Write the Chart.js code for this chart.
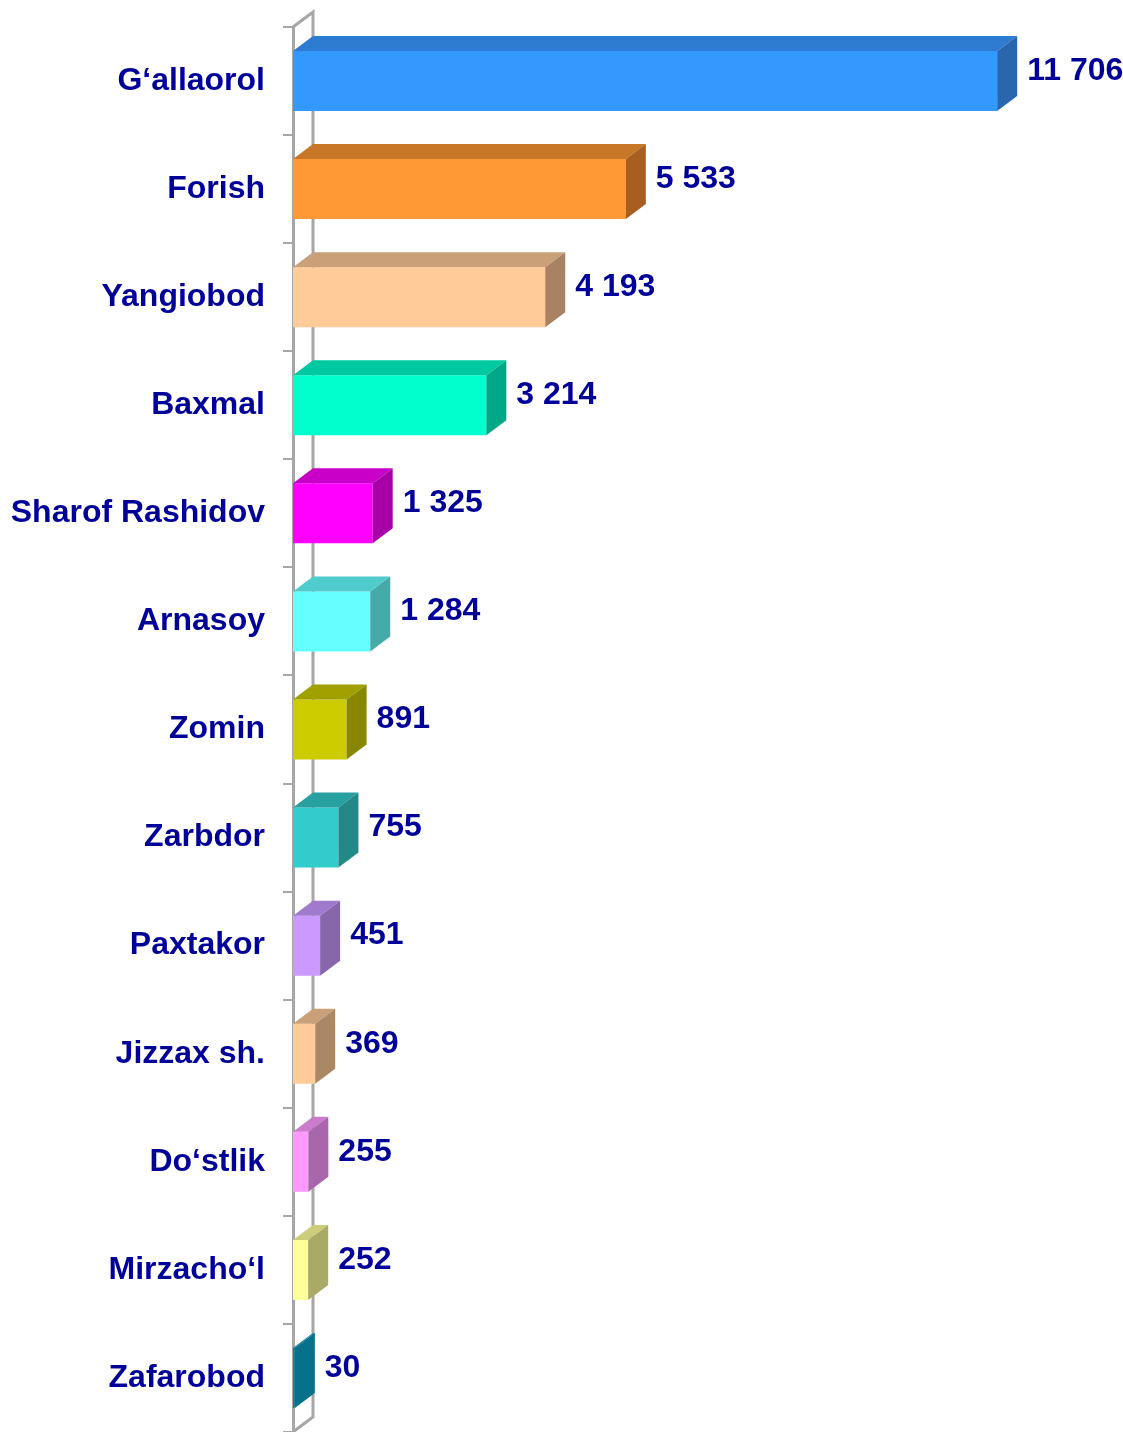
<!DOCTYPE html>
<html>
<head>
<meta charset="utf-8">
<script src="https://cdn.jsdelivr.net/npm/chart.js@4.4.0/dist/chart.umd.min.js"></script>
<style>
  body { margin: 0; background: #fff; }
  canvas { display: block; }
</style>
</head>
<body>
<canvas id="chart" width="1123" height="1432"></canvas>
<script>
var districts = ["G‘allaorol", "Forish", "Yangiobod", "Baxmal", "Sharof Rashidov", "Arnasoy", "Zomin",
                 "Zarbdor", "Paxtakor", "Jizzax sh.", "Do‘stlik", "Mirzacho‘l", "Zafarobod"];
var amounts = [11706, 5533, 4193, 3214, 1325, 1284, 891, 755, 451, 369, 255, 252, 30];

// front face, top face, side face
var frontColors = ["#3399FF", "#FF9933", "#FFCC99", "#00FFCC", "#FF00FF", "#66FFFF", "#CCCC00",
                   "#33CCCC", "#CC99FF", "#FFCC99", "#FF99FF", "#FFFF99", "#0A809E"];
var topColors = ["#2E7CD2", "#C87628", "#C9A077", "#00C8A0", "#C800C8", "#50CCCC", "#A0A000",
                 "#28A0A0", "#A07ACC", "#C9A077", "#CC7ACC", "#CCCC7A", "#0A809E"];
var sideColors = ["#2A66AE", "#A85E1E", "#A88262", "#00A888", "#A800A8", "#44AAAA", "#888800",
                  "#228888", "#8866AA", "#AA8866", "#AA66AA", "#AAAA66", "#07708A"];

var DX = 20, DY = 15;
var axisGray = "#A6A6A6";
var labelFont = "'Liberation Sans', Arial, sans-serif";

function fmt(v) {
    return String(v).replace(/\B(?=(\d{3})+(?!\d))/g, " ");
}

var box3d = {
    id: "box3d",
    beforeDatasetsDraw: function(chart) {
        var ctx = chart.ctx;
        var a = chart.chartArea;
        ctx.save();
        ctx.strokeStyle = axisGray;
        ctx.lineWidth = 3;
        ctx.beginPath();
        ctx.moveTo(a.left, a.top);
        ctx.lineTo(a.left + DX, a.top - DY);
        ctx.lineTo(a.left + DX, a.bottom - DY);
        ctx.lineTo(a.left, a.bottom);
        ctx.stroke();
        ctx.restore();
    },
    afterDatasetsDraw: function(chart) {
        var ctx = chart.ctx;
        var meta = chart.getDatasetMeta(0);
        ctx.save();
        meta.data.forEach(function(bar, i) {
            var top = bar.y - bar.height / 2;
            var bottom = bar.y + bar.height / 2;
            var x0 = bar.base, x1 = bar.x;
            // top face
            ctx.fillStyle = topColors[i];
            ctx.beginPath();
            ctx.moveTo(x0, top);
            ctx.lineTo(x1, top);
            ctx.lineTo(x1 + DX, top - DY);
            ctx.lineTo(x0 + DX, top - DY);
            ctx.closePath();
            ctx.fill();
            // side face
            ctx.fillStyle = sideColors[i];
            ctx.beginPath();
            ctx.moveTo(x1, top);
            ctx.lineTo(x1 + DX, top - DY);
            ctx.lineTo(x1 + DX, bottom - DY);
            ctx.lineTo(x1, bottom);
            ctx.closePath();
            ctx.fill();
            // value label
            ctx.fillStyle = "#000099";
            ctx.font = "bold 32px " + labelFont;
            ctx.textAlign = "left";
            ctx.textBaseline = "middle";
            ctx.fillText(fmt(amounts[i]), x1 + DX + 10, bar.y - 10);
        });
        ctx.restore();
    }
};

var ctx = document.getElementById("chart").getContext("2d");
var myChart = new Chart(ctx, {
    type: "bar",
    data: {
        labels: districts,
        datasets: [{
            data: amounts,
            backgroundColor: frontColors,
            borderWidth: 0,
            barPercentage: 0.555,
            categoryPercentage: 1
        }]
    },
    options: {
        indexAxis: "y",
        responsive: false,
        animation: false,
        layout: { padding: { top: 27, right: 48, bottom: 0, left: 0 } },
        plugins: {
            legend: { display: false },
            tooltip: { enabled: false }
        },
        scales: {
            x: {
                display: false,
                min: 0,
                max: 13000
            },
            y: {
                afterFit: function(scale) {
                    scale.width = 293;
                    scale.paddingTop = 0;
                    scale.paddingBottom = 0;
                },
                border: { color: axisGray, width: 3 },
                grid: {
                    drawOnChartArea: false,
                    drawTicks: true,
                    tickLength: 10,
                    color: axisGray,
                    lineWidth: 2,
                    offset: true
                },
                ticks: {
                    padding: 18,
                    color: "#000099",
                    font: { family: labelFont, size: 32, weight: "bold" }
                }
            }
        }
    },
    plugins: [box3d]
});
</script>
</body>
</html>
